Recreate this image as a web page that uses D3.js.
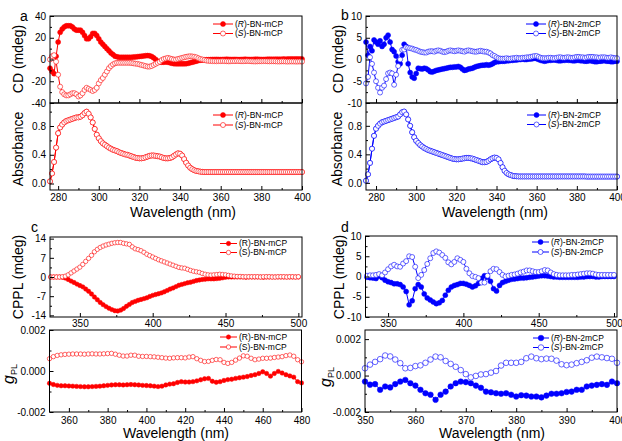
<!DOCTYPE html>
<html>
<head>
<meta charset="utf-8">
<script src="https://cdn.jsdelivr.net/npm/d3@7"></script>
<style>
  body { margin: 0; background: #fff; }
  svg { display: block; font-family: "Liberation Sans", Arial, sans-serif; }
</style>
</head>
<body>
<svg id="chart" width="622" height="441"></svg>
<script>
// ---- data ----
// wavelength grids (nm)
var wlA = d3.range(276, 401, 1);
var wlB = d3.range(275, 401, 1);
var wlC = d3.range(330, 501, 2);
var wlCg = d3.range(350, 481, 2);
var wlD = d3.range(336, 501, 2);
var wlDg = d3.range(350, 401, 1);

// a: CD (mdeg)
var cdA_R = [-8, -11, -13, 3, 16, 25, 28, 30, 31, 31,
  31, 30, 28, 27, 27, 27, 25, 22, 19, 19,
  21, 24, 24, 22, 19, 16, 14, 12, 10, 8,
  6, 4.5, 3, 2.5, 2, 2, 2, 2, 2, 2,
  2, 2.2, 2.4, 2.6, 2.8, 3, 3.2, 3.5, 3.6, 3.4,
  2.8, 1.5, 0, -1.5, -2.2, -2.5, -2.5, -2.2, -2.5, -3,
  -3.5, -3.8, -4, -4, -4, -4, -4, -3.8, -3.5, -3,
  -2.5, -2, -1.5, -1, -0.6, -0.4, -0.3, -0.2, -0.2, -0.1,
  0, 0, 0.1, 0, -0.1, 0, 0.1, 0.2, 0.1, 0,
  0, 0.1, 0, -0.1, 0, 0.1, 0.2, 0.1, 0, 0,
  0.1, 0.2, 0.2, 0.1, 0, 0, 0.1, 0.2, 0.3, 0.2,
  0.2, 0.3, 0.3, 0.2, 0.3, 0.4, 0.3, 0.4, 0.4, 0.5,
  0.4, 0.5, 0.5, 0.4, 0.5];
var cdA_S = [0, 3, 4, -2, -14, -25, -30, -32, -33, -33,
  -32, -31, -31, -32, -34, -33, -31, -28, -26, -27,
  -28, -29, -28, -26, -22, -19, -17, -14, -11, -8,
  -6, -4.5, -3.5, -3, -3, -3, -3, -3, -3, -3,
  -3.2, -3.5, -3.8, -4, -4.5, -5, -5.5, -6, -6.5, -6.5,
  -6, -5, -4, -3, -2, -0.5, 0.5, 1, 1.5, 1,
  0.5, 0, 0, 0.5, 1, 1.5, 2, 2.5, 2.8, 3,
  2.8, 2.5, 2, 1.2, 0.5, 0, -0.5, -1, -1.2, -1.4,
  -1.5, -1.5, -1.6, -1.5, -1.5, -1.4, -1.5, -1.6, -1.7, -1.6,
  -1.5, -1.5, -1.4, -1.5, -1.6, -1.6, -1.5, -1.4, -1.5, -1.6,
  -1.7, -1.8, -1.7, -1.6, -1.6, -1.5, -1.5, -1.6, -1.7, -1.6,
  -1.6, -1.7, -1.8, -1.8, -1.7, -1.7, -1.8, -1.9, -1.8, -1.8,
  -1.8, -1.9, -1.9, -1.8, -1.9];
// a: absorbance (R and S coincide)
var absA = [0.03, 0.14, 0.30, 0.50, 0.70, 0.78, 0.82, 0.85, 0.87, 0.88,
  0.89, 0.90, 0.91, 0.92, 0.92, 0.93, 0.95, 0.98, 1.00, 0.97,
  0.92, 0.85, 0.76, 0.68, 0.63, 0.59, 0.56, 0.54, 0.52, 0.50,
  0.485, 0.47, 0.46, 0.45, 0.435, 0.425, 0.415, 0.405, 0.40, 0.39,
  0.38, 0.37, 0.36, 0.355, 0.35, 0.35, 0.355, 0.365, 0.375, 0.385,
  0.39, 0.39, 0.385, 0.38, 0.375, 0.365, 0.355, 0.35, 0.35, 0.355,
  0.365, 0.385, 0.405, 0.42, 0.415, 0.39, 0.34, 0.29, 0.25, 0.22,
  0.20, 0.185, 0.175, 0.17, 0.165, 0.162, 0.16, 0.16, 0.16, 0.16,
  0.16, 0.16, 0.16, 0.16, 0.16, 0.16, 0.16, 0.16, 0.16, 0.16,
  0.16, 0.16, 0.16, 0.16, 0.16, 0.16, 0.16, 0.16, 0.16, 0.16,
  0.16, 0.16, 0.16, 0.16, 0.16, 0.16, 0.16, 0.16, 0.16, 0.16,
  0.16, 0.16, 0.16, 0.16, 0.16, 0.16, 0.16, 0.16, 0.16, 0.16,
  0.16, 0.16, 0.16, 0.16, 0.16];

// b: CD (mdeg)
var cdB_R = [4, 1, 3, 2, 4.5, 4, 3.5, 4.3, 3, 3.5,
  5, 5.6, 4, 2.3, 1.8, 0.8, -0.5, -1, 1, 3.5,
  3, -1, -3, -4, -4.3, -3.2, -2, -2.1, -2.2, -2,
  -2.1, -2.4, -2.8, -2.9, -2.7, -2.5, -2.4, -2.3, -2.2, -2.1,
  -2, -1.9, -1.8, -1.8, -1.7, -1.7, -1.6, -1.8, -2.2, -2.5,
  -2.4, -2.2, -2.1, -2, -1.8, -1.6, -1.5, -1.4, -1.3, -1.3,
  -1.2, -1.3, -1.2, -1, -0.7, -0.5, -0.5, -0.4, -0.4, -0.4,
  -0.3, -0.3, -0.2, -0.2, -0.1, -0.1, 0, 0, 0.1, 0,
  0, 0.1, 0.1, 0.2, 0.3, 0.2, 0, -0.2, -0.3, -0.4,
  -0.3, -0.2, -0.2, -0.1, -0.1, -0.2, -0.3, -0.3, -0.2, -0.2,
  -0.1, -0.2, -0.2, -0.3, -0.3, -0.2, -0.2, -0.3, -0.3, -0.4,
  -0.4, -0.3, -0.3, -0.4, -0.5, -0.5, -0.4, -0.4, -0.3, -0.3,
  -0.4, -0.4, -0.5, -0.5, -0.4, -0.4];
var cdB_S = [-5.5, -4, 0.5, -1, -3, -5, -6.5, -7.6, -6.5, -6,
  -4.5, -3.2, -3, -3.2, -5.8, -3.5, -1.5, 0, 2.2, 2.3,
  2.8, 2.7, 2.6, 2.5, 2.3, 2.2, 2.0, 1.8, 1.7, 1.6,
  1.6, 1.8, 1.9, 1.9, 1.8, 2.0, 2.1, 2.0, 1.8, 1.7,
  1.8, 2.0, 2.1, 2.0, 1.9, 2.0, 2.1, 2.0, 1.9, 1.8,
  2.0, 2.1, 2.0, 1.9, 1.8, 1.8, 1.9, 2.0, 1.9, 1.8,
  1.8, 1.6, 1.4, 1.0, 0.8, 0.5, 0.3, 0.2, 0.2, 0.2,
  0.3, 0.2, 0.2, 0.3, 0.3, 0.4, 0.3, 0.3, 0.4, 0.4,
  0.5, 0.5, 0.6, 0.7, 0.8, 0.8, 0.6, 0.4, 0.3, 0.3,
  0.3, 0.4, 0.4, 0.3, 0.3, 0.4, 0.5, 0.5, 0.4, 0.4,
  0.5, 0.5, 0.4, 0.4, 0.5, 0.6, 0.6, 0.5, 0.5, 0.4,
  0.5, 0.6, 0.6, 0.6, 0.5, 0.5, 0.4, 0.5, 0.5, 0.5,
  0.4, 0.4, 0.5, 0.4, 0.3, 0.3];
// b: absorbance
var absB = [0.03, 0.12, 0.28, 0.48, 0.66, 0.76, 0.80, 0.83, 0.85, 0.86,
  0.87, 0.88, 0.89, 0.90, 0.91, 0.92, 0.93, 0.96, 0.99, 1.00,
  0.96, 0.89, 0.80, 0.71, 0.64, 0.59, 0.56, 0.53, 0.51, 0.49,
  0.475, 0.46, 0.45, 0.44, 0.43, 0.42, 0.41, 0.40, 0.39, 0.38,
  0.37, 0.36, 0.35, 0.34, 0.335, 0.33, 0.33, 0.335, 0.34, 0.345,
  0.35, 0.35, 0.345, 0.34, 0.33, 0.32, 0.31, 0.30, 0.29, 0.29,
  0.295, 0.31, 0.33, 0.345, 0.355, 0.35, 0.33, 0.28, 0.22, 0.17,
  0.14, 0.12, 0.11, 0.10, 0.095, 0.092, 0.09, 0.09, 0.09, 0.09,
  0.09, 0.09, 0.09, 0.09, 0.09, 0.09, 0.09, 0.09, 0.09, 0.09,
  0.09, 0.09, 0.09, 0.09, 0.09, 0.09, 0.09, 0.09, 0.09, 0.09,
  0.09, 0.09, 0.09, 0.09, 0.09, 0.09, 0.09, 0.09, 0.09, 0.09,
  0.088, 0.088, 0.088, 0.088, 0.088, 0.088, 0.088, 0.088, 0.088, 0.088,
  0.088, 0.088, 0.088, 0.088, 0.088, 0.088];

// c: CPPL (mdeg)
var cpC_R = [0, 0, 0, 0, -0.1, -0.4, -0.9, -1.5, -2.0, -2.6,
  -3.1, -3.6, -4.4, -5.2, -6.2, -7.3, -8.3, -9.3, -10.1, -10.8,
  -11.4, -11.9, -12.3, -12.4, -12.1, -11.5, -10.7, -10.0, -9.3, -8.9,
  -8.5, -8.2, -7.9, -7.6, -7.1, -6.7, -6.4, -6.1, -5.8, -5.4,
  -4.9, -4.4, -4.0, -3.5, -3.0, -2.7, -2.4, -2.1, -1.9, -1.6,
  -1.3, -1.1, -0.9, -0.8, -0.7, -0.7, -0.7, -0.6, -0.5, -0.3,
  -0.1, 0, 0, 0, 0, 0, 0, -0.1, 0, 0,
  0, 0, 0, -0.1, 0, 0, 0, 0, 0, 0,
  0, 0, 0, 0, 0, 0];
var cpC_S = [0, 0, 0, 0, 0.1, 0.3, 0.8, 1.5, 2.2, 2.9,
  3.6, 4.6, 5.7, 6.8, 7.9, 9.2, 10.1, 10.8, 11.3, 11.7,
  12.0, 12.3, 12.5, 12.6, 12.6, 12.3, 12.1, 11.9, 11.0, 10.3,
  10.0, 9.6, 9.0, 8.3, 7.8, 7.3, 6.8, 6.3, 5.9, 5.5,
  5.1, 4.7, 4.3, 3.9, 3.5, 3.3, 3.2, 2.8, 2.4, 2.1,
  1.9, 1.7, 1.3, 1.0, 0.8, 0.7, 0.8, 0.9, 1.0, 0.9,
  0.8, 0.6, 0.4, 0.3, 0.2, 0.2, 0.1, 0.1, 0.1, 0.1,
  0.1, 0.1, 0, 0.1, 0.1, 0.1, 0, 0, 0.1, 0.1,
  0.1, 0, 0.1, 0.1, 0, 0.1];
// c: g_PL in units of 1e-3
var gC_R = [-0.60, -0.66, -0.70, -0.72, -0.72, -0.73, -0.74, -0.75, -0.76, -0.77,
  -0.77, -0.76, -0.75, -0.74, -0.72, -0.70, -0.68, -0.67, -0.67, -0.68,
  -0.67, -0.66, -0.67, -0.68, -0.70, -0.71, -0.72, -0.74, -0.76, -0.74,
  -0.68, -0.64, -0.62, -0.56, -0.52, -0.54, -0.54, -0.52, -0.48, -0.43,
  -0.38, -0.36, -0.50, -0.55, -0.52, -0.46, -0.42, -0.40, -0.36, -0.33,
  -0.30, -0.27, -0.22, -0.18, -0.12, -0.04, -0.12, -0.25, -0.12, -0.02,
  -0.10, -0.18, -0.24, -0.30, -0.52, -0.58];
var gC_S = [0.60, 0.70, 0.76, 0.79, 0.81, 0.82, 0.83, 0.83, 0.83, 0.82,
  0.83, 0.84, 0.83, 0.83, 0.84, 0.85, 0.86, 0.82, 0.77, 0.73,
  0.73, 0.77, 0.77, 0.72, 0.71, 0.71, 0.70, 0.69, 0.67, 0.65,
  0.63, 0.62, 0.64, 0.65, 0.65, 0.64, 0.68, 0.70, 0.60, 0.52,
  0.46, 0.47, 0.52, 0.56, 0.55, 0.42, 0.37, 0.42, 0.53, 0.63,
  0.74, 0.72, 0.62, 0.55, 0.58, 0.62, 0.62, 0.63, 0.66, 0.68,
  0.70, 0.75, 0.78, 0.72, 0.55, 0.45];

// d: CPPL (mdeg)
var cpD_R = [-0.2, -0.3, -0.4, -0.5, 0.1, -0.3, -0.9, -1.3, -1.5, -1.8,
  -1.8, -2.0, -2.6, -3.7, -7.0, -6.0, -3.0, -2.0, -2.6, -4.3,
  -5.3, -5.8, -6.3, -6.7, -6.5, -5.9, -4.6, -3.4, -2.6, -2.2,
  -2.0, -1.7, -1.7, -1.9, -2.2, -2.6, -2.3, -1.7, -0.5, 0.2,
  -0.2, -1.2, -3.0, -3.6, -2.2, -1.5, -1.2, -0.9, -0.7, -0.6,
  -0.5, -0.4, -0.4, -0.3, -0.2, -0.1, 0.0, 0.1, 0.2, 0.2,
  0.1, 0.0, -0.1, -0.1, -0.2, -0.2, -0.2, -0.2, -0.2, -0.2,
  -0.2, -0.1, -0.1, 0.0, 0.0, 0.0, -0.1, -0.1, 0.0, 0.0,
  0.0, 0.0, 0.0];
var cpD_S = [0.2, 0.3, 0.3, 0.4, 0.6, 0.3, 1.0, 1.8, 2.5, 2.9,
  2.5, 2.4, 3.2, 3.8, 5.0, 4.8, 2.4, -0.4, 0.4, 1.6,
  3.1, 4.5, 5.8, 6.2, 5.9, 5.3, 4.6, 3.5, 3.0, 3.6,
  4.5, 4.1, 3.6, 1.9, 0.8, 0.1, -0.1, -0.4, -1.5, -1.5,
  0.2, 1.3, 1.9, 1.8, 1.1, 0.4, 0.0, 0.2, 0.4, 0.5,
  0.7, 1.0, 1.2, 1.5, 1.5, 1.3, 1.1, 1.1, 1.3, 1.6,
  1.5, 1.0, 0.6, 0.4, 0.3, 0.3, 0.3, 0.3, 0.4, 0.4,
  0.5, 0.6, 0.7, 0.8, 0.8, 0.7, 0.5, 0.4, 0.4, 0.4,
  0.4, 0.4, 0.4];
// d: g_PL in units of 1e-3
var gD_R = [-0.33, -0.50, -0.47, -0.78, -0.60, -0.65, -0.47, -0.33, -0.24, -0.42,
  -0.55, -0.78, -0.97, -1.05, -1.33, -1.05, -0.88, -0.60, -0.42, -0.33,
  -0.36, -0.42, -0.55, -0.67, -0.88, -0.92, -0.97, -1.00, -0.97, -1.05,
  -1.15, -1.08, -1.10, -1.15, -1.15, -1.20, -1.10, -1.00, -1.00, -0.97,
  -0.90, -0.88, -0.78, -0.78, -0.60, -0.55, -0.51, -0.47, -0.51, -0.33,
  -0.42];
var gD_S = [0.40, 0.60, 0.75, 0.90, 1.10, 1.05, 0.88, 0.68, 0.40, 0.42,
  0.52, 0.56, 0.70, 0.88, 1.04, 1.00, 0.80, 0.64, 0.48, 0.30,
  0.08, -0.10, -0.02, 0.06, 0.08, 0.16, 0.25, 0.55, 0.70, 0.70,
  0.70, 0.75, 0.95, 1.04, 0.95, 0.90, 0.93, 0.92, 0.82, 0.62,
  0.57, 0.60, 0.68, 0.75, 0.84, 0.98, 1.04, 1.00, 0.96, 0.92,
  0.70];

var namesMCP = ["BN-mCP", "BN-mCP"];
var names2mCP = ["BN-2mCP", "BN-2mCP"];

// ---- drawing ----
var svg = d3.select("#chart");
var RED = "#ff0000", BLUE = "#0000ff";

function fmtInt(d) { return String(d); }
function fmtAbs(d) { return d.toFixed(1); }
function fmtG(d) { return (d / 1000).toFixed(3); }

function drawPlot(o) {
    var x = d3.scaleLinear().domain(o.xDomain).range([o.left, o.right]);
    var y = d3.scaleLinear().domain(o.yDomain).range([o.bottom, o.top]);
    var g = svg.append("g");

    // series: filled (R) first, hollow (S) on top
    o.series.forEach(function (s) {
        var pts = s.x.map(function (w, i) { return [w, s.y[i]]; });
        var line = d3.line().x(function (d) { return x(d[0]); }).y(function (d) { return y(d[1]); });
        g.append("path").attr("d", line(pts))
            .attr("fill", "none").attr("stroke", o.color).attr("stroke-width", 1);
        g.selectAll(null).data(pts).enter().append("circle")
            .attr("cx", function (d) { return x(d[0]); })
            .attr("cy", function (d) { return y(d[1]); })
            .attr("r", o.r)
            .attr("fill", s.filled ? o.color : "#fff")
            .attr("stroke", o.color)
            .attr("stroke-width", s.filled ? 0.5 : 0.6);
    });

    // box
    g.append("rect").attr("x", o.left).attr("y", o.top)
        .attr("width", o.right - o.left).attr("height", o.bottom - o.top)
        .attr("fill", "none").attr("stroke", "#000").attr("stroke-width", 1);

    // x axis
    var xa = g.append("g").attr("transform", "translate(0," + o.bottom + ")")
        .call(d3.axisBottom(x).tickValues(o.xTicks).tickSize(-4).tickPadding(o.xPad)
            .tickFormat(o.xLabels ? fmtInt : function () { return ""; }));
    var xm = g.append("g").attr("transform", "translate(0," + o.bottom + ")")
        .call(d3.axisBottom(x).tickValues(o.xMinor).tickSize(-2).tickFormat(function () { return ""; }));
    // y axis
    var ya = g.append("g").attr("transform", "translate(" + o.left + ",0)")
        .call(d3.axisLeft(y).tickValues(o.yTicks).tickSize(-4).tickPadding(4).tickFormat(o.yFmt));
    var ym = g.append("g").attr("transform", "translate(" + o.left + ",0)")
        .call(d3.axisLeft(y).tickValues(o.yMinor).tickSize(-2).tickFormat(function () { return ""; }));
    [xa, xm, ya, ym].forEach(function (a) {
        a.select(".domain").remove();
        a.attr("font-family", null).attr("font-size", 10);
        a.selectAll("text").attr("fill", "#000");
    });

    // legend
    var L = o.legend;
    o.series.forEach(function (s, i) {
        var ly = L.y + i * L.dy;
        g.append("line").attr("x1", L.x).attr("x2", L.x + L.w).attr("y1", ly).attr("y2", ly)
            .attr("stroke", o.color).attr("stroke-width", 1);
        g.append("circle").attr("cx", L.x + L.w / 2).attr("cy", ly).attr("r", o.r)
            .attr("fill", s.filled ? o.color : "#fff").attr("stroke", o.color)
            .attr("stroke-width", s.filled ? 0.5 : 0.6);
        var t = g.append("text").attr("x", L.x + L.w + 2).attr("y", ly).attr("dy", "0.35em")
            .attr("font-size", 8.5).attr("fill", "#000");
        t.append("tspan").text("(");
        t.append("tspan").attr("font-style", L.italic ? "italic" : null).text(i === 0 ? "R" : "S");
        t.append("tspan").text(")-" + L.names[i]);
    });
}

function yTitle(txt, cx, cy) {
    svg.append("text").attr("transform", "translate(" + cx + "," + cy + ") rotate(-90)")
        .attr("text-anchor", "middle").attr("dy", "0.35em")
        .attr("font-size", 14).attr("fill", "#000").text(txt);
}
function gTitle(bx, cy) {
    var t = svg.append("text").attr("transform", "translate(" + bx + "," + cy + ") rotate(-90)")
        .attr("text-anchor", "middle").attr("fill", "#000");
    t.append("tspan").attr("font-size", 16).attr("font-style", "italic").text("g");
    t.append("tspan").attr("font-size", 9).attr("dy", 3).text("PL");
}
function xTitle(cx, by) {
    svg.append("text").attr("x", cx).attr("y", by).attr("text-anchor", "middle")
        .attr("font-size", 14).attr("fill", "#000").text("Wavelength (nm)");
}
function letter(txt, lx, ly) {
    svg.append("text").attr("x", lx).attr("y", ly).attr("font-size", 14).attr("fill", "#000").text(txt);
}

var ticksAB = [280, 300, 320, 340, 360, 380, 400];
var minorAB = [290, 310, 330, 350, 370, 390];

// panel a
drawPlot({ left: 50, right: 302, top: 16, bottom: 103, xDomain: [276, 400], yDomain: [-40, 40],
    xTicks: ticksAB, xMinor: minorAB, xLabels: false, xPad: 4,
    yTicks: [-40, -20, 0, 20, 40], yMinor: [-30, -10, 10, 30], yFmt: fmtInt,
    color: RED, r: 2.5,
    series: [{ x: wlA, y: cdA_R, filled: true }, { x: wlA, y: cdA_S, filled: false }],
    legend: { x: 213, y: 24, dy: 9.5, w: 20, names: namesMCP, italic: true } });
drawPlot({ left: 50, right: 302, top: 103, bottom: 190, xDomain: [276, 400], yDomain: [-0.09, 1.12],
    xTicks: ticksAB, xMinor: minorAB, xLabels: true, xPad: 3.5,
    yTicks: [0, 0.4, 0.8], yMinor: [0.2, 0.6, 1.0], yFmt: fmtAbs,
    color: RED, r: 2.5,
    series: [{ x: wlA, y: absA, filled: true }, { x: wlA, y: absA, filled: false }],
    legend: { x: 213, y: 115, dy: 10, w: 20, names: namesMCP, italic: true } });

// panel b
drawPlot({ left: 366, right: 617, top: 16, bottom: 103, xDomain: [275, 400], yDomain: [-10, 10],
    xTicks: ticksAB, xMinor: minorAB, xLabels: false, xPad: 4,
    yTicks: [-10, -5, 0, 5, 10], yMinor: [-7.5, -2.5, 2.5, 7.5], yFmt: fmtInt,
    color: BLUE, r: 2.5,
    series: [{ x: wlB, y: cdB_R, filled: true }, { x: wlB, y: cdB_S, filled: false }],
    legend: { x: 526, y: 24, dy: 9.5, w: 20, names: names2mCP, italic: true } });
drawPlot({ left: 366, right: 617, top: 103, bottom: 190, xDomain: [275, 400], yDomain: [-0.1, 1.12],
    xTicks: ticksAB, xMinor: minorAB, xLabels: true, xPad: 3.5,
    yTicks: [0, 0.4, 0.8], yMinor: [0.2, 0.6, 1.0], yFmt: fmtAbs,
    color: BLUE, r: 2.5,
    series: [{ x: wlB, y: absB, filled: true }, { x: wlB, y: absB, filled: false }],
    legend: { x: 527, y: 115, dy: 9.5, w: 19, names: names2mCP, italic: true } });

// panel c
drawPlot({ left: 50, right: 302, top: 237, bottom: 317, xDomain: [329.5, 502.5], yDomain: [-14.6, 14.6],
    xTicks: [350, 400, 450, 500], xMinor: [375, 425, 475], xLabels: true, xPad: 3,
    yTicks: [-14, -7, 0, 7, 14], yMinor: [-10.5, -3.5, 3.5, 10.5], yFmt: fmtInt,
    color: RED, r: 2.2,
    series: [{ x: wlC, y: cpC_R, filled: true }, { x: wlC, y: cpC_S, filled: false }],
    legend: { x: 220, y: 243.5, dy: 9, w: 17, names: namesMCP, italic: false } });
drawPlot({ left: 49.5, right: 301.5, top: 330, bottom: 412, xDomain: [350, 480], yDomain: [-2, 2],
    xTicks: [360, 380, 400, 420, 440, 460, 480], xMinor: [370, 390, 410, 430, 450, 470], xLabels: true, xPad: 4.5,
    yTicks: [-2, 0, 2], yMinor: [-1, 1], yFmt: fmtG,
    color: RED, r: 2.2,
    series: [{ x: wlCg, y: gC_R, filled: true }, { x: wlCg, y: gC_S, filled: false }],
    legend: { x: 220, y: 337, dy: 10, w: 17, names: namesMCP, italic: false } });

// panel d
drawPlot({ left: 365.5, right: 617, top: 236, bottom: 317, xDomain: [335, 502], yDomain: [-10, 10],
    xTicks: [350, 400, 450, 500], xMinor: [375, 425, 475], xLabels: true, xPad: 3,
    yTicks: [-10, -5, 0, 5, 10], yMinor: [-7.5, -2.5, 2.5, 7.5], yFmt: fmtInt,
    color: BLUE, r: 2.5,
    series: [{ x: wlD, y: cpD_R, filled: true }, { x: wlD, y: cpD_S, filled: false }],
    legend: { x: 532, y: 242, dy: 10, w: 17, names: names2mCP, italic: true } });
drawPlot({ left: 365, right: 617, top: 330, bottom: 412, xDomain: [350, 400], yDomain: [-2, 2.5],
    xTicks: [350, 360, 370, 380, 390, 400], xMinor: [355, 365, 375, 385, 395], xLabels: true, xPad: 4.5,
    yTicks: [-2, 0, 2], yMinor: [-1, 1], yFmt: fmtG,
    color: BLUE, r: 2.8,
    series: [{ x: wlDg, y: gD_R, filled: true }, { x: wlDg, y: gD_S, filled: false }],
    legend: { x: 533, y: 338, dy: 9.5, w: 16, names: names2mCP, italic: true } });

// titles
yTitle("CD (mdeg)", 18, 59);
yTitle("Absorbance", 18, 149);
yTitle("CD (mdeg)", 338, 59);
yTitle("Absorbance", 337, 149);
yTitle("CPPL (mdeg)", 18, 277);
yTitle("CPPL (mdeg)", 339, 277);
gTitle(13.5, 374);
gTitle(331, 377);
xTitle(183, 216.5);
xTitle(495, 216.5);
xTitle(176, 438);
xTitle(492, 438);
letter("a", 20, 21);
letter("b", 341, 20);
letter("c", 31, 232);
letter("d", 341, 232);
</script>
</body>
</html>
